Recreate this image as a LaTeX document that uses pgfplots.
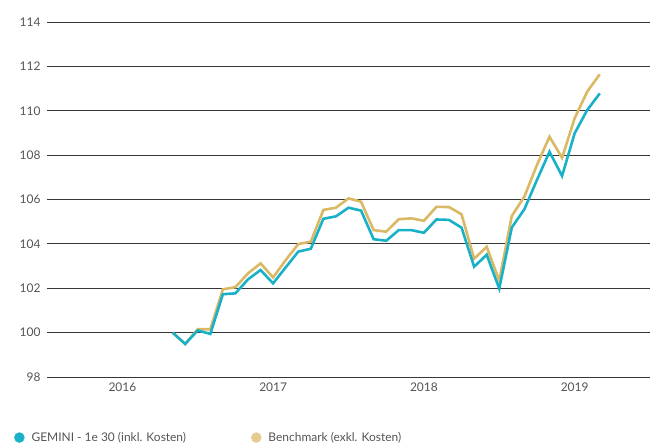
\documentclass[border=0pt]{standalone}
\usepackage{fontspec}
\setmainfont{Lato}
\usepackage{pgfplots}
\pgfplotsset{compat=1.18}
\definecolor{tealc}{RGB}{24,177,199}
\definecolor{goldc}{RGB}{218,184,100}
\definecolor{goldleg}{RGB}{228,203,142}
\definecolor{txtc}{RGB}{85,85,85}
\definecolor{gridc}{RGB}{55,55,55}
\begin{document}
\begin{tikzpicture}
\begin{axis}[
  scale only axis,
  width=603bp, height=355bp,
  xmin=0, xmax=48,
  ymin=98, ymax=114,
  ytick={98,100,...,114},
  xtick={6,18,30,42},
  xticklabels={2016,2017,2018,2019},
  axis line style={draw=none},
  major tick length=0pt,
  ymajorgrids,
  grid style={gridc, line width=0.9bp},
  tick label style={font=\fontsize{12}{14}\selectfont, text=txtc},
  yticklabel style={xshift=-3bp},
  xticklabel style={yshift=-2bp},
  /pgf/number format/assume math mode=true,
  clip=false,
  legend columns=2,
  legend style={draw=none, fill=none, at={(0,0)}, anchor=north west,
    xshift=-36bp, yshift=-51bp, font=\fontsize{12}{14}\selectfont, text=txtc,
    /tikz/every odd column/.append style={column sep=5bp},
    /tikz/every even column/.append style={column sep=63bp}},
  legend cell align=left,
  legend image code/.code={\fill[#1] (4bp,0bp) circle (5bp);},
]
\addlegendimage{color=tealc}
\addlegendentry{GEMINI - 1e 30 (inkl. Kosten)}
\addlegendimage{color=goldleg}
\addlegendentry{Benchmark (exkl. Kosten)}
\addplot[color=goldc, line width=2.6bp, forget plot] table[x=m, y=v] {
m v
10 100.00
11 99.49
12 100.15
13 100.15
14 101.95
15 102.05
16 102.67
17 103.12
18 102.49
19 103.27
20 103.99
21 104.10
22 105.53
23 105.63
24 106.05
25 105.90
26 104.62
27 104.55
28 105.11
29 105.15
30 105.04
31 105.67
32 105.66
33 105.33
34 103.33
35 103.87
36 102.34
37 105.26
38 106.13
39 107.55
40 108.83
41 107.88
42 109.66
43 110.86
44 111.64
};
\addplot[color=tealc, line width=2.6bp, forget plot] table[x=m, y=v] {
m v
10 100.00
11 99.49
12 100.10
13 99.94
14 101.73
15 101.77
16 102.40
17 102.82
18 102.22
19 102.94
20 103.65
21 103.78
22 105.13
23 105.24
24 105.63
25 105.50
26 104.21
27 104.14
28 104.62
29 104.62
30 104.50
31 105.10
32 105.08
33 104.73
34 102.97
35 103.51
36 101.98
37 104.74
38 105.56
39 106.88
40 108.15
41 107.06
42 108.98
43 110.03
44 110.78
};
\end{axis}
\useasboundingbox (current axis.south west) ++(-47bp,-68bp) rectangle ([xshift=5bp,yshift=22bp]current axis.north east);
\end{tikzpicture}
\end{document}
